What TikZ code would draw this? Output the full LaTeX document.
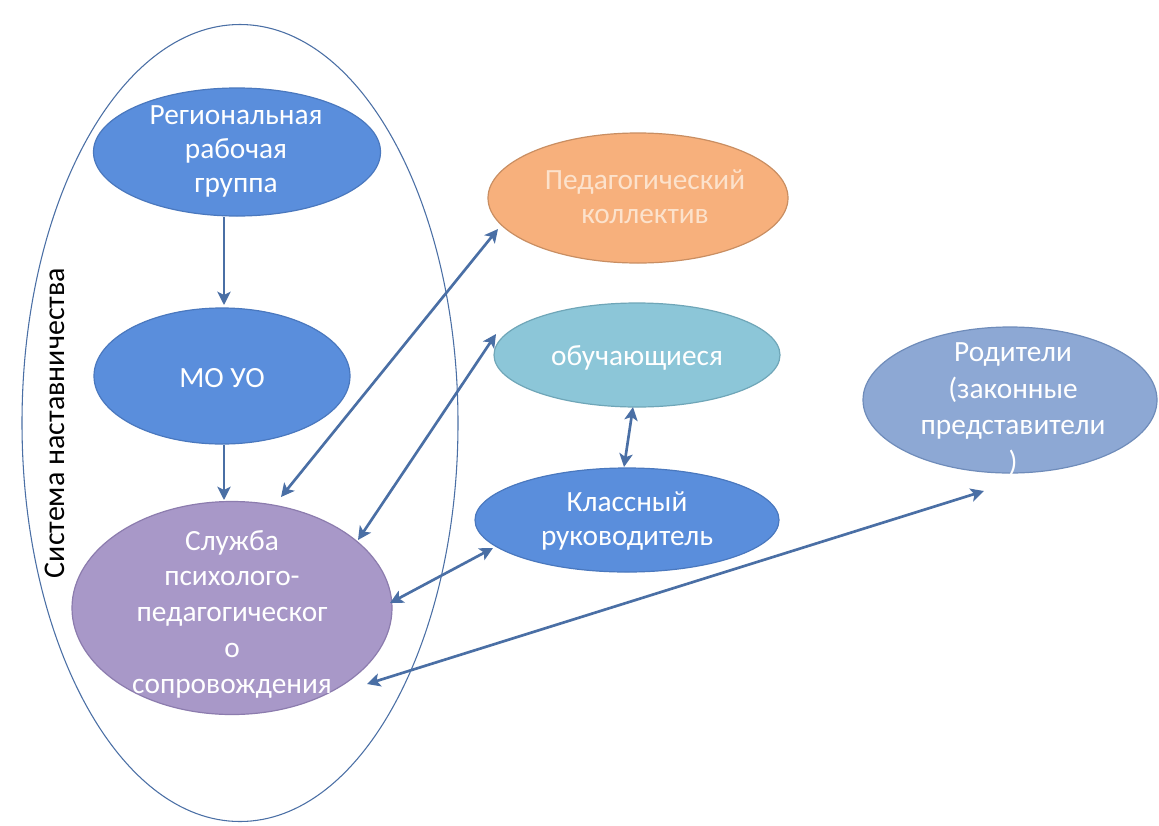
\documentclass[tikz,border=0pt]{standalone}
\usepackage{fontspec}
\setmainfont{Carlito}
\usetikzlibrary{shapes.geometric,arrows.meta}
\definecolor{blueA}{HTML}{5A8EDC}
\definecolor{blueAb}{HTML}{4A78BE}
\definecolor{purp}{HTML}{A898C8}
\definecolor{purpb}{HTML}{8C7CAE}
\definecolor{orng}{HTML}{F7B07C}
\definecolor{orngb}{HTML}{C98E62}
\definecolor{orngt}{HTML}{FCE2CC}
\definecolor{cyanA}{HTML}{8CC6D8}
\definecolor{cyanAb}{HTML}{6FA6B8}
\definecolor{greyb}{HTML}{8DA8D4}
\definecolor{greybb}{HTML}{6F8CBA}
\definecolor{arr}{HTML}{4A6FA5}
\definecolor{outl}{HTML}{4A6FA5}
\tikzset{
  oval/.style={ellipse, draw, line width=0.9pt, inner sep=0pt},
  txt/.style={text=white, align=center, font=\fontsize{22}{25.5}\selectfont, inner sep=0pt},
  link/.style={draw=arr, line width=2pt, -{Stealth[length=10pt,width=10pt,inset=2.5pt]}},
  dlink/.style={draw=arr, line width=2pt, {Stealth[length=10pt,width=10pt,inset=2.5pt]}-{Stealth[length=10pt,width=10pt,inset=2.5pt]}}
}
\begin{document}
\begin{tikzpicture}[x=0.75pt,y=-0.75pt]
\useasboundingbox (0,0) rectangle (1159,825);
\fill[white] (0,0) rectangle (1159,825);
% outer ellipse
\node[ellipse, draw=outl, line width=0.8pt, minimum width=436*0.75pt, minimum height=797*0.75pt, inner sep=0pt] (sys) at (240,423) {};
\node[rotate=90, font=\fontsize{22.5}{26}\selectfont] (syslab) at (55,423) {Система наставничества};
% shapes
\node[oval, fill=blueA, draw=blueAb, minimum width=287*0.75pt, minimum height=128*0.75pt] (reg) at (237,152) {};
\node[oval, fill=blueA, draw=blueAb, minimum width=256*0.75pt, minimum height=136*0.75pt] (mo) at (222,376) {};
\node[oval, fill=purp, draw=purpb, minimum width=320*0.75pt, minimum height=213*0.75pt] (sl) at (232,608) {};
\node[oval, fill=orng, draw=orngb, minimum width=300*0.75pt, minimum height=130*0.75pt] (ped) at (638,198) {};
\node[oval, fill=cyanA, draw=cyanAb, minimum width=286*0.75pt, minimum height=104*0.75pt] (ob) at (637,355) {};
\node[oval, fill=blueA, draw=blueAb, minimum width=304*0.75pt, minimum height=104*0.75pt] (kl) at (627,520) {};
\node[oval, fill=greyb, draw=greybb, minimum width=294*0.75pt, minimum height=146*0.75pt] (rod) at (1010,400) {};
% texts
\node[txt] (regt) at (236,151) {Региональная\\рабочая\\группа};
\node[txt] (mot) at (222,378) {МО УО};
\node[txt, font=\fontsize{22}{26.8}\selectfont] (slt) at (232,614) {Служба\\психолого-\\педагогическог\\о\\сопровождения};
\node[txt, text=orngt] (pedt) at (645,197) {Педагогический\\коллектив};
\node[txt] (obt) at (637,358) {обучающиеся};
\node[txt] (klt) at (627,521) {Классный\\руководитель};
\node[txt, font=\fontsize{22}{27.5}\selectfont] (rodt) at (1013,409) {Родители\\(законные\\представители\\)};
% connector ends
\coordinate (r1) at (224,217);
\coordinate (m1) at (224,305);
\coordinate (m2) at (224,445);
\coordinate (s1) at (224,500);
\coordinate (p1) at (281,497);
\coordinate (p2) at (498,229);
\coordinate (o1) at (358,540);
\coordinate (o2) at (496,334);
\coordinate (k1) at (390,603);
\coordinate (k2) at (493,548);
\coordinate (q1) at (367,684);
\coordinate (q2) at (984,491);
\coordinate (b1) at (633,407);
\coordinate (b2) at (624,467);
% connectors
\draw[link] (r1) -- (m1);
\draw[link] (m2) -- (s1);
\draw[dlink] (p1) -- (p2);
\draw[dlink] (o1) -- (o2);
\draw[dlink] (k1) -- (k2);
\draw[dlink] (q1) -- (q2);
\draw[dlink] (b1) -- (b2);
\end{tikzpicture}
\end{document}
